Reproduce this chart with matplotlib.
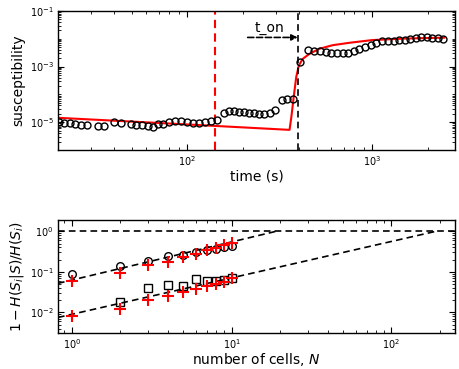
import matplotlib
matplotlib.use("Agg")
import matplotlib.pyplot as plt
from matplotlib.ticker import LogLocator, NullFormatter

# --- top panel: susceptibility vs time ---
t_obs = [20.2, 21.5, 23.1, 24.8, 26.7, 28.7, 32.9, 35.3, 40.1, 44.0, 49.4, 53.0,
         56.9, 61.3, 65.2, 69.4, 73.8, 79.2, 85.4, 92.0, 99.5, 106.8, 115, 124,
         134.5, 144,
         158, 168, 179, 190, 202, 215, 229, 244, 259, 279, 297,
         324, 347, 373,
         405, 449, 484, 519, 559, 600, 644, 694, 738, 793, 847, 909, 979, 1051,
         1127, 1215, 1304, 1393, 1496, 1604, 1713, 1839, 1974, 2110, 2264, 2410]
chi_obs = [1.0e-5, 9.2e-6, 9.2e-6, 8.7e-6, 8.2e-6, 7.8e-6, 7.4e-6, 7.3e-6, 1.0e-5,
           9.5e-6, 8.4e-6, 8.1e-6, 7.7e-6, 7.3e-6, 6.6e-6, 8.7e-6, 8.7e-6, 1.0e-5,
           1.06e-5, 1.06e-5, 1.05e-5, 9.7e-6, 9.6e-6, 1.0e-5, 1.08e-5, 1.22e-5,
           2.11e-5, 2.5e-5, 2.5e-5, 2.3e-5, 2.3e-5, 2.18e-5, 2.11e-5, 2.0e-5,
           2.0e-5, 2.11e-5, 2.64e-5,
           6.45e-5, 7.0e-5, 7.0e-5,
           1.47e-3, 3.9e-3, 3.67e-3, 3.58e-3, 3.38e-3, 3.21e-3, 3.11e-3, 2.96e-3,
           3.21e-3, 3.67e-3, 4.13e-3, 4.88e-3, 5.9e-3, 7.15e-3, 8.2e-3, 8.45e-3,
           8.45e-3, 8.95e-3, 8.95e-3, 9.5e-3, 1.03e-2, 1.12e-2, 1.12e-2, 1.08e-2,
           1.03e-2, 9.5e-3]

t_model = [20, 100, 357, 365, 376, 388, 401, 421, 458, 519, 612, 753, 1000, 1500, 2450]
chi_model = [1.44e-5, 8.3e-6, 5.3e-6, 1.5e-5, 8e-5, 4.2e-4, 1.1e-3, 1.9e-3, 2.9e-3,
             4.4e-3, 5.9e-3, 7.2e-3, 9.0e-3, 1.02e-2, 1.1e-2]

t_stim = 142
t_on = 395
t_arrow_start = 212
arrow_level = 0.0112

# --- bottom panel: information vs number of cells ---
n_cells = [1, 2, 3, 4, 5, 6, 7, 8, 9, 10]
circ_vals = [0.0875, 0.138, 0.19, 0.245, 0.254, 0.307, 0.338, 0.37, 0.41, 0.425]
plus_hi = [0.058, 0.094, 0.144, 0.174, 0.231, 0.27, 0.338, 0.39, 0.45, 0.51]
n_sq = [2, 3, 4, 5, 6, 7, 8, 9, 10]
sq_vals = [0.0177, 0.039, 0.0485, 0.046, 0.067, 0.058, 0.0606, 0.063, 0.0697]
plus_lo = [0.0083, 0.0121, 0.0206, 0.0259, 0.0325, 0.038, 0.046, 0.050, 0.0575, 0.071]

fit_hi_n = [0.82, 19]
fit_hi_y = [0.052, 1.0]
fit_lo_n = [0.82, 190]
fit_lo_y = [0.0075, 1.0]

plt.rcParams.update({
    "xtick.direction": "in", "ytick.direction": "in",
    "xtick.top": True, "ytick.right": True,
    "xtick.major.size": 4, "ytick.major.size": 4,
    "xtick.minor.size": 2, "ytick.minor.size": 2,
    "xtick.major.pad": 3, "ytick.major.pad": 3,
    "xtick.labelsize": 7, "ytick.labelsize": 7,
    "axes.linewidth": 1.0,
})

fig = plt.figure(figsize=(4.59, 3.69), dpi=100)
ax1 = fig.add_axes([58 / 459, 1 - 150 / 369, 397 / 459, 139 / 369])
ax2 = fig.add_axes([58 / 459, 1 - 333 / 369, 397 / 459, 113 / 369])

ax1.plot(t_model, chi_model, color="red", lw=1.5, zorder=2)
ax1.plot(t_obs, chi_obs, "o", mfc="none", mec="k", ms=5, mew=1.0, zorder=3)
ax1.axvline(t_stim, color="red", ls="--", lw=1.5, dashes=(4, 2.5))
ax1.axvline(t_on, color="k", ls="--", lw=1.2, dashes=(4, 2.5))
ax1.annotate("", xy=(t_on, arrow_level), xytext=(t_arrow_start, arrow_level),
             arrowprops=dict(arrowstyle="-|>", ls="--", color="k", lw=1.2,
                             mutation_scale=9, shrinkA=0, shrinkB=0))
ax1.text(279, 0.0245, "t_on", ha="center", va="center", fontsize=10)
ax1.set_xscale("log")
ax1.set_yscale("log")
ax1.set_xlim(20, 2800)
ax1.set_ylim(1e-6, 1e-1)
ax1.set_yticks([1e-5, 1e-3, 1e-1])
ax1.yaxis.set_minor_locator(LogLocator(base=10, subs=range(1, 10), numticks=20))
ax1.yaxis.set_minor_formatter(NullFormatter())
ax1.set_xlabel("time (s)", fontsize=10, labelpad=1)
ax1.set_ylabel("susceptibility", fontsize=10, labelpad=3)

ax2.axhline(1.0, color="k", ls="--", lw=1.2, dashes=(4, 2.5))
ax2.plot(fit_hi_n, fit_hi_y, "k--", lw=1.2, dashes=(4, 2.5))
ax2.plot(fit_lo_n, fit_lo_y, "k--", lw=1.2, dashes=(4, 2.5))
ax2.plot(n_cells, circ_vals, "o", mfc="none", mec="k", ms=5.5, mew=1.0)
ax2.plot(n_sq, sq_vals, "s", mfc="none", mec="k", ms=5.5, mew=1.0)
ax2.plot(n_cells, plus_hi, "+", color="red", ms=9, mew=1.5)
ax2.plot(n_cells, plus_lo, "+", color="red", ms=9, mew=1.5)
ax2.set_xscale("log")
ax2.set_yscale("log")
ax2.set_xlim(0.82, 250)
ax2.set_ylim(0.0031, 1.9)
ax2.set_xlabel("number of cells, $N$", fontsize=10, labelpad=0)
ax2.set_ylabel(r"$1-H(S_i|S)/H(S_i)$", fontsize=10, labelpad=3)

fig.savefig("out.png", dpi=100)
